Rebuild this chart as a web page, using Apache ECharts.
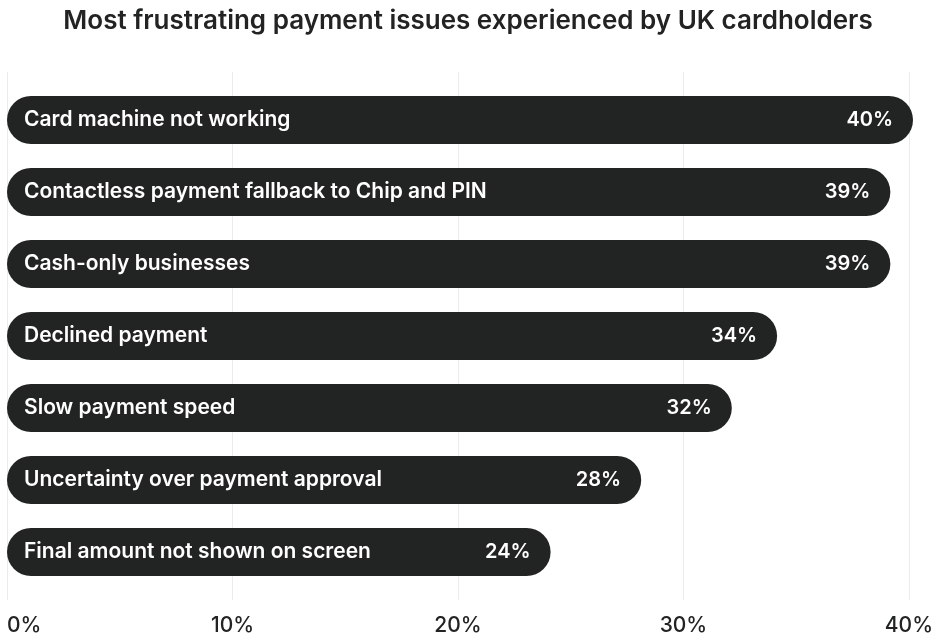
<!DOCTYPE html>
<html>
<head>
    <meta charset="utf-8">
    <title>ECharts</title>
    <script src="https://cdn.jsdelivr.net/npm/echarts@6/dist/echarts.min.js"></script>
    <style>
        html, body { margin: 0; padding: 0; background: #fff; }
        #main { width: 936px; height: 641px; }
    </style>
</head>
<body>
    <div id="main"></div>
    <script type="text/javascript">
        // data
        var issues = [
            'Card machine not working',
            'Contactless payment fallback to Chip and PIN',
            'Cash-only businesses',
            'Declined payment',
            'Slow payment speed',
            'Uncertainty over payment approval',
            'Final amount not shown on screen'
        ];
        var shares = [40, 39, 39, 34, 32, 28, 24];
        var ticks = [0, 10, 20, 30, 40];

        var dark = '#222323';
        var font = 'Inter';

        var myChart = echarts.init(document.getElementById('main'));
        var option = {
            backgroundColor: '#fff',
            textStyle: { fontFamily: font },
            title: {
                text: 'Most frustrating payment issues experienced by UK cardholders',
                left: 'center',
                top: 3,
                textStyle: { fontFamily: font, fontSize: 26, fontWeight: 600, color: dark }
            },
            grid: [
                // grid 0 only carries the grid lines and tick labels
                { left: 7, right: 23, top: 72, bottom: 41 },
                // grid 1 holds the bars
                { left: 7, right: 23, top: 84, bottom: 53 }
            ],
            xAxis: [{
                gridIndex: 0,
                type: 'value',
                min: ticks[0],
                max: ticks[ticks.length - 1],
                interval: 10,
                axisLine: { show: false },
                axisTick: { show: false },
                splitLine: { lineStyle: { color: '#ececec', width: 1 } },
                axisLabel: {
                    margin: 15,
                    fontSize: 21,
                    fontWeight: 500,
                    color: dark,
                    fontFamily: font,
                    alignMinLabel: 'left',
                    formatter: '{value}%'
                }
            }, {
                gridIndex: 1,
                type: 'value',
                min: ticks[0],
                max: ticks[ticks.length - 1],
                show: false
            }],
            yAxis: [{
                gridIndex: 0,
                type: 'category',
                data: issues,
                show: false
            }, {
                gridIndex: 1,
                type: 'category',
                data: issues,
                inverse: true,
                show: false
            }],
            series: [{
                type: 'bar',
                xAxisIndex: 1,
                yAxisIndex: 1,
                data: shares,
                barWidth: 48,
                itemStyle: { color: dark, borderRadius: 24 },
                label: {
                    show: true,
                    position: 'insideLeft',
                    distance: 17,
                    color: '#fff',
                    fontSize: 21,
                    fontWeight: 600,
                    fontFamily: font,
                    formatter: function (p) { return p.name; }
                },
                silent: true
            }, {
                type: 'bar',
                xAxisIndex: 1,
                yAxisIndex: 1,
                data: shares,
                barWidth: 48,
                barGap: '-100%',
                itemStyle: { color: 'transparent' },
                label: {
                    show: true,
                    position: 'insideRight',
                    distance: 20,
                    color: '#fff',
                    fontSize: 20,
                    fontWeight: 600,
                    fontFamily: font,
                    formatter: '{c}%'
                },
                silent: true
            }]
        };
        myChart.setOption(option);
    </script>
</body>
</html>
